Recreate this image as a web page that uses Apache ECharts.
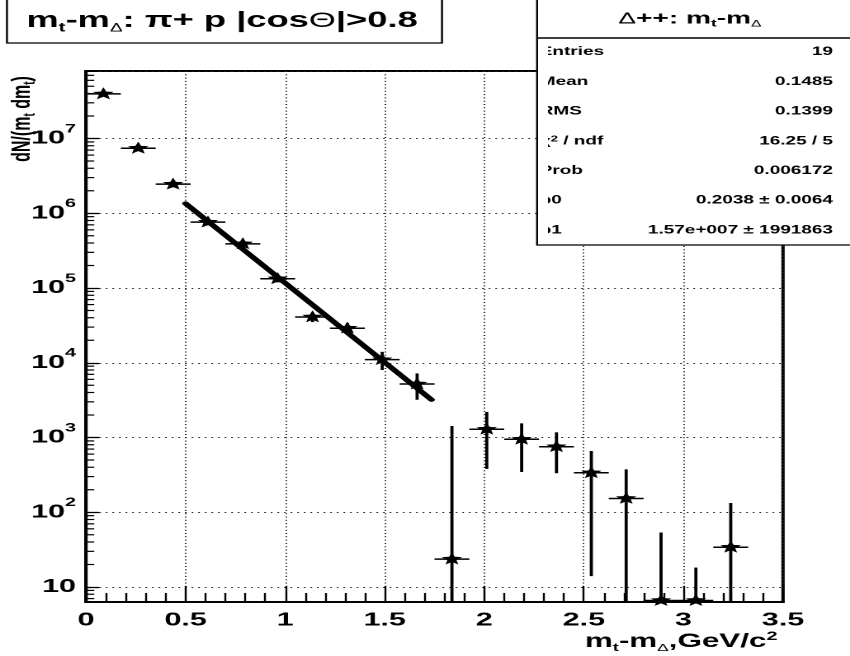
<!DOCTYPE html>
<html>
<head>
<meta charset="utf-8">
<script src="https://cdn.jsdelivr.net/npm/echarts@6/dist/echarts.min.js"></script>
<style>
  html, body { margin: 0; padding: 0; background: #fff; overflow: hidden; width: 850px; height: 656px; }
  /* the canvas is laid out narrow and widened horizontally, like the original wide-screen print */
  #chart { width: 515px; height: 656px; transform: scaleX(1.6505); transform-origin: 0 0; }
</style>
</head>
<body>
<div id="chart"></div>
<script>
// Delta++ transverse-mass spectrum, pi+ p, |cos(Theta)| > 0.8
const binCenters = [0.0875, 0.2625, 0.4375, 0.6125, 0.7875, 0.9625, 1.1375, 1.3125, 1.4875, 1.6625,
                    1.8375, 2.0125, 2.1875, 2.3625, 2.5375, 2.7125, 2.8875, 3.0625, 3.2375];
const binHalfWidth = 0.0875;
const counts = [3.95e7, 7.4e6, 2.45e6, 7.6e5, 3.9e5, 1.33e5, 4.1e4, 2.9e4, 1.1e4, 5.2e3,
                23.6, 1290, 946, 753, 337, 153, 6.6, 6.6, 34];
const countErrors = [1.5e6, 5e5, 1.8e5, 7e4, 4e4, 1.4e4, 6e3, 5e3, 3e3, 2e3,
                     1400, 910, 600, 420, 323, 221, 47, 11.6, 99];

// exponential fit p1*exp(-x/p0), drawn over its fit range
const fitX = [0.5, 1.735];
const fitY = [1.35e6, 3.2e3];

// statistics box
const statsTitle = '{th|Δ}{b|++: m}{sub|t}{b|-m}{subth|Δ}';
const statsLabels = ['Entries', 'Mean', 'RMS', '{n|χ}{sup|2}{n| / ndf}', 'Prob', 'p0', 'p1'];
const statsValues = ['19', '0.1485', '0.1399', '16.25 / 5', '0.006172', '0.2038 ± 0.0064', '1.57e+007 ± 1991863'];

const FONT = '"Liberation Sans", Arial, Helvetica, sans-serif';
const Y_MIN = 6.3, Y_MAX = 8e7;

// log-axis minor ticks at 2..9 of each decade
const minorTickValues = [];
for (let d = 0; d <= 7; d++) {
  for (let m = 2; m <= 9; m++) {
    const v = m * Math.pow(10, d);
    if (v >= Y_MIN && v <= Y_MAX) minorTickValues.push(v);
  }
}

function starPoints(cx, cy, R, r) {
  const pts = [];
  for (let i = 0; i < 10; i++) {
    const a = -Math.PI / 2 + i * Math.PI / 5;
    const rad = i % 2 === 0 ? R : r;
    pts.push([cx + rad * Math.cos(a), cy + rad * Math.sin(a)]);
  }
  return pts;
}

const chart = echarts.init(document.getElementById('chart'), null, { devicePixelRatio: 2, renderer: 'canvas' });

const boldRich = (size) => ({ fontSize: size, fontWeight: 'bold', fontFamily: FONT, color: '#000' });

const statsRows = [];
statsLabels.forEach((lab, i) => {
  const y = 52 + i * 29.7;
  statsRows.push({
    type: 'text', x: 327, y: y, z: 102,
    style: {
      text: lab.indexOf('{') === 0 ? lab : '{n|' + lab + '}',
      rich: {
        n: { fontSize: 11.5, fontWeight: 'bold', fontFamily: FONT, color: '#000' },
        sup: { fontSize: 8, fontWeight: 'bold', fontFamily: FONT, color: '#000', verticalAlign: 'top', lineHeight: 8 }
      },
      align: 'left', verticalAlign: 'middle'
    }
  });
  statsRows.push({
    type: 'text', x: 504.7, y: y, z: 102,
    style: { text: statsValues[i], font: 'bold 11.5px ' + FONT, fill: '#000', align: 'right', verticalAlign: 'middle' }
  });
});

const option = {
  animation: false,
  backgroundColor: '#fff',
  grid: { left: 52.1, right: 40.6, top: 71, bottom: 54, show: true, borderColor: '#000', borderWidth: 2 },
  xAxis: {
    type: 'value', min: 0, max: 3.5, interval: 0.5,
    axisLine: { show: true, onZero: false, lineStyle: { color: '#000', width: 2 } },
    axisTick: { show: true, inside: true, length: 16, lineStyle: { color: '#000', width: 1.2 } },
    minorTick: { show: true, splitNumber: 5, length: 9, lineStyle: { color: '#000', width: 1.2 } },
    axisLabel: { margin: 9, fontSize: 18.5, fontWeight: 'bold', color: '#000', fontFamily: FONT },
    splitLine: { show: true, lineStyle: { color: '#222', width: 1, type: [1, 2.3] } }
  },
  yAxis: {
    type: 'log', logBase: 10, min: Y_MIN, max: Y_MAX,
    axisLine: { show: true, lineStyle: { color: '#000', width: 2 } },
    axisTick: { show: true, inside: true, length: 8, lineStyle: { color: '#000', width: 1.3 } },
    axisLabel: {
      margin: 6, showMinLabel: false, showMaxLabel: false,
      formatter: function (v) {
        const e = Math.log10(v), r = Math.round(e);
        if (Math.abs(e - r) > 1e-6) return '';
        return r === 1 ? '{b|10}' : '{b|10}{s|' + r + '}';
      },
      rich: {
        b: { fontSize: 18.5, fontWeight: 'bold', fontFamily: FONT, color: '#000', lineHeight: 31 },
        s: { fontSize: 12, fontWeight: 'bold', fontFamily: FONT, color: '#000', lineHeight: 10, verticalAlign: 'top' }
      }
    },
    splitLine: { show: true, lineStyle: { color: '#222', width: 1, type: [1, 3] } }
  },
  series: [
    {
      type: 'custom', coordinateSystem: 'cartesian2d', silent: true, z: 3,
      data: minorTickValues.map(v => [0, v]),
      encode: { x: 0, y: 1 },
      renderItem: function (params, api) {
        const cs = params.coordSys;
        const p = api.coord([0, api.value(1)]);
        return { type: 'line', shape: { x1: cs.x, y1: p[1], x2: cs.x + 5, y2: p[1] }, style: { stroke: '#000', lineWidth: 1.2 } };
      }
    },
    {
      type: 'line', silent: true, z: 4, symbol: 'none',
      data: fitX.map((x, i) => [x, fitY[i]]),
      lineStyle: { color: '#000', width: 4, cap: 'round' }
    },
    {
      type: 'custom', coordinateSystem: 'cartesian2d', silent: true, z: 5, clip: false,
      data: binCenters.map((x, i) => [x, counts[i], countErrors[i]]),
      encode: { x: 0, y: 1 },
      renderItem: function (params, api) {
        const x = api.value(0), y = api.value(1), e = api.value(2);
        const cs = params.coordSys;
        const top = cs.y, bottom = cs.y + cs.height;
        const c = api.coord([x, y]);
        const xl = api.coord([x - binHalfWidth, y])[0];
        const xr = api.coord([x + binHalfWidth, y])[0];
        let yHi = api.coord([x, y + e])[1];
        let yLo = (y - e) > 0 ? api.coord([x, y - e])[1] : bottom;
        yHi = Math.max(yHi, top);
        yLo = Math.min(yLo, bottom);
        return {
          type: 'group',
          children: [
            { type: 'line', shape: { x1: xl, y1: c[1], x2: xr, y2: c[1] }, style: { stroke: '#000', lineWidth: 1.5 } },
            { type: 'line', shape: { x1: c[0], y1: yHi, x2: c[0], y2: yLo }, style: { stroke: '#000', lineWidth: 1.9 } },
            { type: 'polygon', shape: { points: starPoints(c[0], c[1], 6.6, 2.9) }, style: { fill: '#000' } }
          ]
        };
      }
    }
  ],
  graphic: [
    // title box
    { type: 'rect', z: 100, shape: { x: 4.2, y: -2, width: 263.6, height: 45 }, style: { fill: '#fff', stroke: '#000', lineWidth: 1.2 } },
    {
      type: 'text', z: 101, x: 16, y: 21,
      style: {
        text: '{b|m}{sub|t}{b|-m}{subth|Δ}{b|: π+ p |cos}{th|Θ}{b||>0.8}',
        rich: {
          b: Object.assign(boldRich(22), { lineHeight: 27 }),
          sub: Object.assign(boldRich(12.5), { lineHeight: 12, verticalAlign: 'bottom' }),
          subth: { fontSize: 11.5, fontFamily: FONT, color: '#000', lineHeight: 12, verticalAlign: 'bottom' },
          th: { fontSize: 21, fontFamily: FONT, color: '#000', lineHeight: 27 }
        },
        align: 'left', verticalAlign: 'middle'
      }
    },
    // statistics box
    { type: 'rect', z: 100, shape: { x: 325.4, y: -2, width: 200, height: 247 }, style: { fill: '#fff', stroke: '#000', lineWidth: 1.2 } },
    { type: 'line', z: 101, shape: { x1: 325.4, y1: 38, x2: 516, y2: 38 }, style: { stroke: '#000', lineWidth: 1.5 } },
    {
      type: 'text', z: 101, x: 418, y: 19,
      style: {
        text: statsTitle,
        rich: {
          b: Object.assign(boldRich(17), { lineHeight: 20 }),
          sub: Object.assign(boldRich(10.5), { lineHeight: 10, verticalAlign: 'bottom' }),
          subth: { fontSize: 9.5, fontFamily: FONT, color: '#000', lineHeight: 10, verticalAlign: 'bottom' },
          th: { fontSize: 16, fontFamily: FONT, color: '#000', lineHeight: 20 }
        },
        align: 'center', verticalAlign: 'middle'
      }
    },
    ...statsRows,
    { type: 'rect', z: 103, shape: { x: 326.1, y: 40, width: 5.9, height: 203 }, style: { fill: '#fff' } },
    // axis titles
    {
      type: 'text', z: 101, x: 13.5, y: 119, rotation: Math.PI / 2,
      style: {
        text: '{b|dN/(m}{sub|t}{b| dm}{sub|t}{b|)}',
        rich: {
          b: Object.assign(boldRich(16), { lineHeight: 19 }),
          sub: Object.assign(boldRich(10), { lineHeight: 9, verticalAlign: 'bottom' })
        },
        align: 'center', verticalAlign: 'middle'
      }
    },
    {
      type: 'text', z: 101, x: 471, y: 642,
      style: {
        text: '{b|m}{sub|t}{b|-m}{subth|Δ}{b|,GeV/c}{sup|2}',
        rich: {
          b: Object.assign(boldRich(19), { lineHeight: 23 }),
          sub: Object.assign(boldRich(11), { lineHeight: 10, verticalAlign: 'bottom' }),
          subth: { fontSize: 10.5, fontFamily: FONT, color: '#000', lineHeight: 10, verticalAlign: 'bottom' },
          sup: Object.assign(boldRich(12), { lineHeight: 10, verticalAlign: 'top' })
        },
        align: 'right', verticalAlign: 'middle'
      }
    }
  ]
};

chart.setOption(option);
</script>
</body>
</html>
